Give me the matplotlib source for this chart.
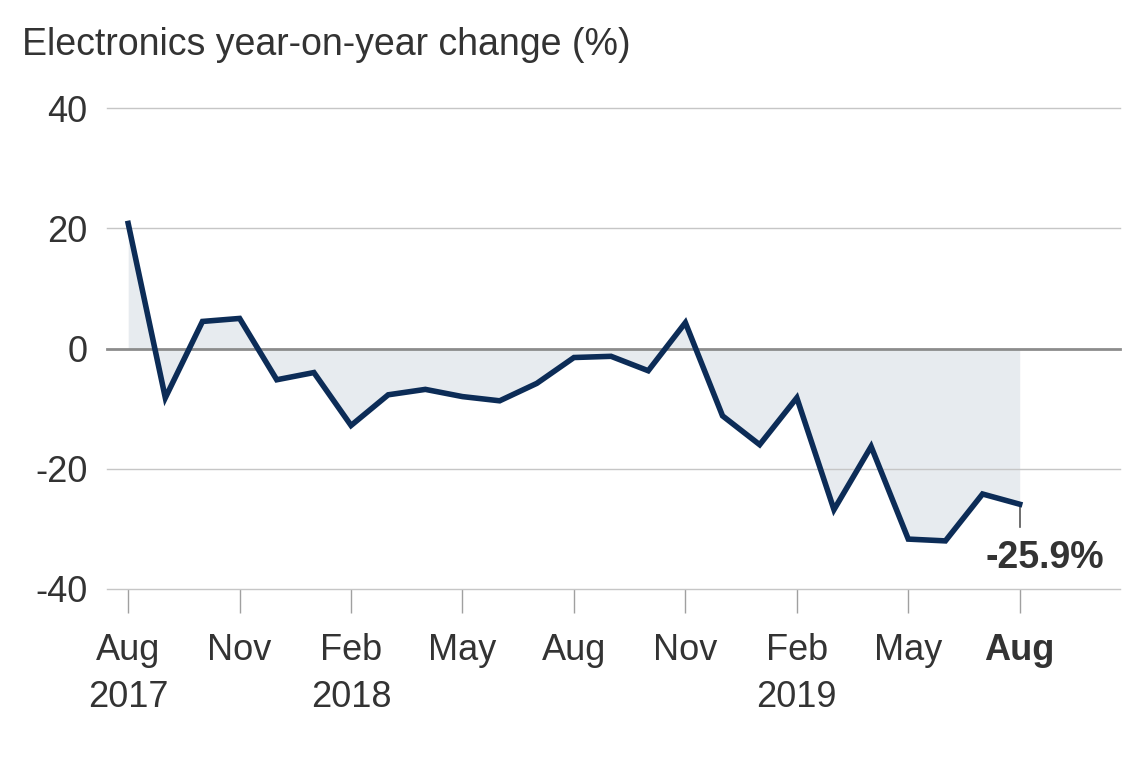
#!/usr/bin/env python3
# -*- coding: utf-8 -*-
import matplotlib
matplotlib.use('Agg')
import matplotlib.pyplot as plt

# monthly electronics year-on-year change, Aug 2017 .. Aug 2019
months = ['Aug 2017', 'Sep 2017', 'Oct 2017', 'Nov 2017', 'Dec 2017',
          'Jan 2018', 'Feb 2018', 'Mar 2018', 'Apr 2018', 'May 2018',
          'Jun 2018', 'Jul 2018', 'Aug 2018', 'Sep 2018', 'Oct 2018',
          'Nov 2018', 'Dec 2018', 'Jan 2019', 'Feb 2019', 'Mar 2019',
          'Apr 2019', 'May 2019', 'Jun 2019', 'Jul 2019', 'Aug 2019']
change = [20.8, -8.2, 4.5, 5.0, -5.2, -4.0, -12.8, -7.7, -6.8, -8.0,
          -8.7, -5.8, -1.5, -1.3, -3.7, 4.3, -11.2, -16.0, -8.2, -26.8,
          -16.3, -31.7, -32.0, -24.2, -25.9]
tick_labels = ['Aug\n2017', 'Nov', 'Feb\n2018', 'May', 'Aug', 'Nov',
               'Feb\n2019', 'May', 'Aug']
yticks = [-40, -20, 0, 20, 40]

plt.rcParams['font.family'] = ['Liberation Sans', 'DejaVu Sans']
textcol = '#333333'

fig = plt.figure(figsize=(11.4, 7.6), dpi=100)
ax = fig.add_axes([107 / 1140, 1 - 589 / 760, 1013 / 1140, 481 / 760])

x = list(range(len(months)))
ax.fill_between(x, change, 0, color='#e7ebef', linewidth=0, zorder=1)
for v in yticks:
    if v == 0:
        ax.axhline(v, color='#8c8c8c', linewidth=2.0, zorder=2, clip_on=False)
    else:
        ax.axhline(v, color='#c6c6c6', linewidth=1.0, zorder=2, clip_on=False)
ax.plot(x, change, color='#0c2c57', linewidth=4.0, zorder=3,
        solid_joinstyle='miter')

# annotation for the last value
last = len(change) - 1
ax.plot([last, last], [change[-1], change[-1] - 3.8], color='#555555',
        linewidth=1.2, zorder=2)
ax.text(last + 0.68, change[-1] - 9.0, '%.1f%%' % change[-1], fontsize=27,
        fontweight='bold', color=textcol, ha='center', va='center')

ax.set_xlim(-0.57, 26.7)
ax.set_ylim(-40, 40)
ax.set_yticks(yticks)
ax.set_yticklabels([str(v) for v in yticks])
ax.set_xticks(x[::3])
ax.set_xticklabels(tick_labels, linespacing=1.42)
ax.get_xticklabels()[-1].set_fontweight('bold')
ax.tick_params(axis='y', length=0, pad=14, labelsize=26, labelcolor=textcol)
ax.tick_params(axis='x', length=17, width=1.0, color='#a0a0a0', pad=15,
               labelsize=26, labelcolor=textcol)
for s in ax.spines.values():
    s.set_visible(False)

fig.text(22 / 1140, 1 - 45 / 760, 'Electronics year-on-year change (%)',
         fontsize=27, color=textcol, ha='left', va='center')

plt.savefig('out.png', dpi=100)
